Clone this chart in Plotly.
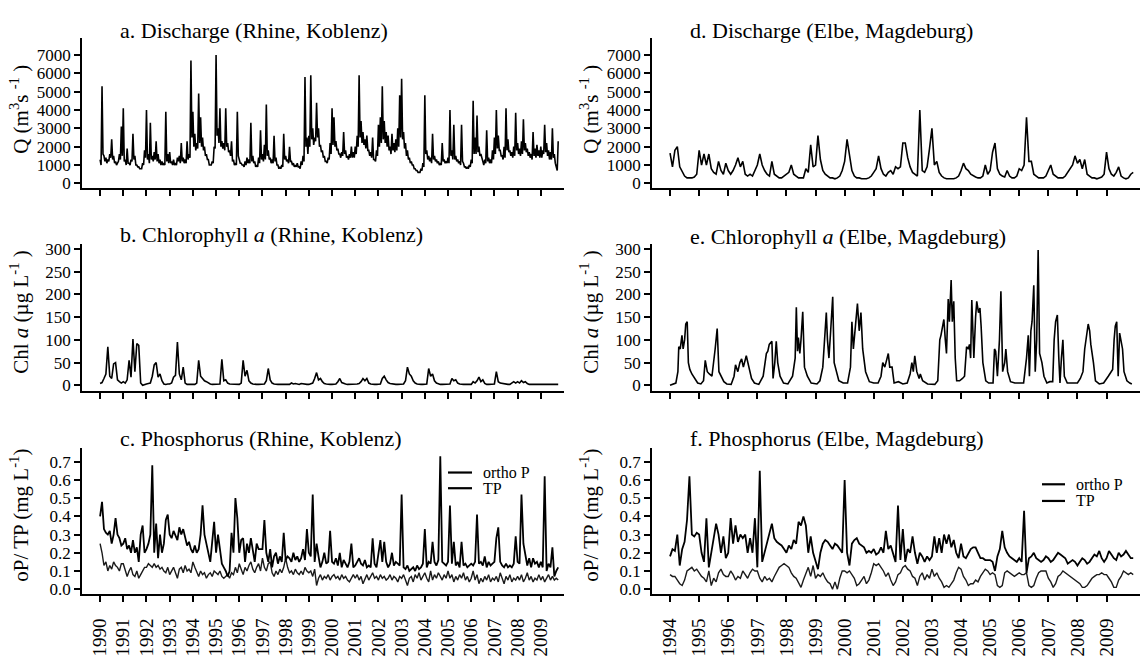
import plotly.graph_objects as go

# ---------------- data ----------------
years_rhine = list(range(1990, 2010))
years_elbe = list(range(1994, 2010))

# a. Rhine discharge at Koblenz (m3 s-1): values at the start of each month from Jan 1990
rhine_q = [
    1300, 5300, 1500, 1400, 1300, 1600, 2400, 1500, 1200, 1100, 1600, 3100,  # 1990
    4100, 1300, 1900, 1100, 1300, 2700, 1500, 1000, 900, 800, 1100, 1800,    # 1991
    4000, 1600, 3300, 1500, 1700, 2300, 1600, 1300, 1200, 1100, 3900, 1600,  # 1992
    1700, 1200, 1300, 1100, 1400, 1500, 2200, 1400, 1300, 2300, 1600, 6700,  # 1993
    3900, 2700, 2200, 4900, 3600, 2500, 2000, 1600, 1300, 1000, 1200, 2000,  # 1994
    7000, 3000, 4100, 2300, 2200, 4100, 2200, 1800, 2300, 1300, 1100, 3900,  # 1995
    1300, 1100, 1000, 1200, 1400, 1300, 3300, 1500, 1200, 1000, 1400, 2900,  # 1996
    1600, 2100, 4300, 1800, 1400, 1300, 2600, 1400, 1000, 900, 1000, 2700,   # 1997
    1500, 1300, 2000, 1200, 1100, 1000, 1100, 900, 1200, 1500, 5800, 2500,   # 1998
    2600, 5900, 3000, 2500, 4400, 3000, 2100, 1800, 1500, 1200, 1400, 2200,  # 1999
    4100, 3600, 2300, 1900, 1600, 1700, 2800, 1800, 1500, 1600, 2000, 1700,  # 2000
    2000, 2600, 5900, 3400, 2800, 2400, 2600, 1800, 1700, 2500, 1300, 1800,  # 2001
    3200, 3600, 5300, 3400, 2800, 2600, 2000, 2700, 2200, 2400, 3000, 4800,  # 2002
    5700, 2800, 2200, 1800, 1400, 1200, 1000, 800, 700, 600, 800, 1100,      # 2003
    4800, 1800, 1500, 1400, 2700, 1500, 1300, 1200, 1100, 2200, 1300, 1200,  # 2004
    1400, 4000, 1800, 3200, 1500, 1300, 1200, 3200, 1100, 900, 900, 1000,    # 2005
    1300, 4500, 2500, 3700, 2000, 1600, 1200, 1300, 2900, 1400, 1300, 1800,  # 2006
    2500, 4000, 2600, 1800, 1500, 2000, 4100, 2400, 1800, 1700, 2000, 3850,  # 2007
    2200, 1900, 2300, 3500, 2200, 1900, 1700, 1600, 2800, 1900, 2100, 1800,  # 2008
    2000, 1800, 3200, 2200, 1800, 1700, 3000, 1600, 800, 2300,               # 2009
]
# mid-month values of the same series (between consecutive values above)
rhine_q_mid = [
    1000, 1600, 1200, 1100, 1200, 1400, 1300, 1100, 1000, 1200, 1300, 1500,  # 1990
    1200, 1000, 1100, 1000, 1200, 1300, 1000, 900, 800, 800, 1000, 1400,     # 1991
    1300, 1100, 1300, 1200, 1300, 1200, 1100, 1000, 1000, 1000, 1200, 1100,  # 1992
    1100, 1000, 1000, 1000, 1200, 1100, 1200, 1100, 1100, 1300, 1400, 2500,  # 1993
    2000, 1800, 1900, 2200, 2000, 1800, 1500, 1300, 1000, 1000, 1100, 1900,  # 1994
    2600, 2200, 2000, 1900, 1800, 2000, 1700, 1500, 1200, 1000, 1000, 1500,  # 1995
    1100, 1000, 900, 1000, 1100, 1100, 1200, 1100, 900, 900, 1100, 1300,     # 1996
    1200, 1300, 1500, 1300, 1100, 1100, 1200, 1000, 800, 800, 900, 1300,     # 1997
    1200, 1100, 1200, 1000, 900, 900, 900, 800, 1000, 1200, 2000, 1600,      # 1998
    2000, 2400, 2100, 2300, 2500, 2000, 1700, 1400, 1200, 1100, 1300, 1600,  # 1999
    2100, 2000, 1800, 1600, 1400, 1500, 1600, 1400, 1300, 1400, 1400, 1400,  # 2000
    1600, 2000, 2500, 2200, 2100, 1900, 1800, 1500, 1400, 1300, 1200, 1500,  # 2001
    2000, 2200, 2400, 2200, 2000, 1800, 1600, 1800, 1700, 1800, 2000, 2500,  # 2002
    2400, 1900, 1500, 1300, 1100, 1000, 800, 700, 600, 600, 700, 900,        # 2003
    1600, 1300, 1200, 1100, 1300, 1200, 1100, 1000, 1000, 1200, 1100, 1100,  # 2004
    1100, 1500, 1300, 1300, 1200, 1100, 1000, 1200, 900, 800, 800, 900,      # 2005
    1100, 1600, 1600, 1700, 1500, 1300, 1000, 1100, 1200, 1100, 1100, 1300,  # 2006
    1600, 1900, 1800, 1500, 1300, 1400, 1800, 1700, 1500, 1400, 1500, 1800,  # 2007
    1600, 1500, 1600, 1800, 1700, 1500, 1400, 1300, 1500, 1400, 1500, 1400,  # 2008
    1400, 1600, 1700, 1500, 1300, 1300, 1400, 1100, 700,                     # 2009
]

# b. Rhine chlorophyll a (ug L-1), monthly from Jan 1990
rhine_chl = [
    4, 6, 15, 25, 85, 20, 15, 47, 50, 12, 8, 5,      # 1990
    8, 5, 12, 55, 18, 102, 30, 92, 88, 5, 0, 2,      # 1991
    3, 4, 5, 20, 45, 50, 18, 25, 10, 3, 2, 3,        # 1992
    3, 5, 18, 22, 95, 25, 12, 40, 5, 2, 2, 3,        # 1993
    2, 2, 5, 55, 20, 15, 10, 8, 5, 3, 2, 2,          # 1994
    2, 2, 3, 57, 10, 12, 5, 3, 3, 2, 2, 2,           # 1995
    2, 5, 55, 20, 33, 10, 5, 3, 2, 2, 2, 2,          # 1996
    2, 3, 10, 37, 12, 5, 3, 2, 2, 2, 2, 2,           # 1997
    2, 3, 2, 5, 3, 4, 3, 2, 4, 3, 2, 2,              # 1998
    2, 3, 5, 15, 28, 12, 15, 8, 4, 3, 2, 2,          # 1999
    2, 2, 3, 8, 15, 6, 4, 3, 2, 2, 2, 2,             # 2000
    2, 3, 4, 8, 15, 10, 15, 5, 3, 2, 2, 2,           # 2001
    2, 3, 15, 20, 12, 6, 4, 3, 2, 2, 2, 2,           # 2002
    2, 3, 10, 40, 25, 20, 10, 5, 3, 2, 2, 2,         # 2003
    2, 3, 37, 20, 25, 10, 5, 3, 2, 2, 2, 2,          # 2004
    2, 3, 15, 10, 12, 5, 3, 2, 2, 2, 2, 2,           # 2005
    2, 8, 5, 10, 18, 8, 12, 4, 2, 2, 2, 2,           # 2006
    3, 30, 8, 5, 4, 3, 2, 2, 2, 6, 8, 5,             # 2007
    8, 5, 10, 6, 8, 4, 2, 2, 2, 2, 2, 2,             # 2008
    2, 2, 2, 2, 2, 2, 2, 2, 2, 2,                    # 2009
]

# c. Rhine phosphorus (mg L-1), monthly from Jan 1990
rhine_tp = [
    0.40, 0.48, 0.33, 0.31, 0.30, 0.32, 0.25, 0.30, 0.39, 0.30, 0.28, 0.24,  # 1990
    0.25, 0.28, 0.22, 0.24, 0.20, 0.27, 0.20, 0.23, 0.15, 0.30, 0.35, 0.20,  # 1991
    0.22, 0.25, 0.30, 0.68, 0.20, 0.36, 0.17, 0.30, 0.20, 0.25, 0.38, 0.41,  # 1992
    0.30, 0.28, 0.32, 0.29, 0.27, 0.34, 0.30, 0.33, 0.28, 0.24, 0.26, 0.22,  # 1993
    0.20, 0.24, 0.20, 0.22, 0.30, 0.46, 0.30, 0.25, 0.20, 0.15, 0.26, 0.37,  # 1994
    0.20, 0.30, 0.22, 0.14, 0.12, 0.10, 0.07, 0.10, 0.31, 0.20, 0.50, 0.39,  # 1995
    0.20, 0.27, 0.28, 0.15, 0.25, 0.20, 0.28, 0.20, 0.15, 0.25, 0.22, 0.22,  # 1996
    0.22, 0.38, 0.20, 0.15, 0.22, 0.12, 0.18, 0.20, 0.14, 0.18, 0.15, 0.31,  # 1997
    0.16, 0.18, 0.17, 0.15, 0.20, 0.16, 0.18, 0.15, 0.17, 0.22, 0.16, 0.33,  # 1998
    0.20, 0.18, 0.52, 0.15, 0.25, 0.18, 0.12, 0.15, 0.20, 0.14, 0.15, 0.32,  # 1999
    0.15, 0.14, 0.17, 0.13, 0.20, 0.12, 0.16, 0.14, 0.12, 0.15, 0.25, 0.12,  # 2000
    0.13, 0.15, 0.17, 0.14, 0.13, 0.16, 0.12, 0.13, 0.12, 0.28, 0.14, 0.12,  # 2001
    0.20, 0.27, 0.15, 0.26, 0.15, 0.12, 0.14, 0.20, 0.13, 0.15, 0.14, 0.13,  # 2002
    0.52, 0.12, 0.11, 0.13, 0.10, 0.11, 0.12, 0.10, 0.13, 0.11, 0.12, 0.14,  # 2003
    0.33, 0.12, 0.15, 0.14, 0.26, 0.15, 0.13, 0.16, 0.73, 0.15, 0.14, 0.13,  # 2004
    0.15, 0.46, 0.14, 0.26, 0.13, 0.15, 0.12, 0.26, 0.13, 0.14, 0.12, 0.13,  # 2005
    0.14, 0.13, 0.15, 0.41, 0.14, 0.15, 0.13, 0.18, 0.12, 0.15, 0.13, 0.14,  # 2006
    0.15, 0.28, 0.34, 0.15, 0.13, 0.12, 0.14, 0.12, 0.13, 0.12, 0.14, 0.29,  # 2007
    0.15, 0.14, 0.52, 0.25, 0.18, 0.13, 0.17, 0.12, 0.17, 0.14, 0.15, 0.12,  # 2008
    0.15, 0.12, 0.62, 0.10, 0.14, 0.12, 0.23, 0.07, 0.10, 0.12,              # 2009
]
rhine_op = [
    0.25, 0.20, 0.13, 0.15, 0.10, 0.13, 0.11, 0.15, 0.13, 0.12, 0.10, 0.14,  # 1990
    0.14, 0.11, 0.07, 0.10, 0.12, 0.08, 0.07, 0.10, 0.06, 0.08, 0.10, 0.12,  # 1991
    0.12, 0.14, 0.13, 0.12, 0.14, 0.12, 0.13, 0.11, 0.12, 0.10, 0.09, 0.12,  # 1992
    0.08, 0.10, 0.12, 0.09, 0.06, 0.11, 0.12, 0.09, 0.13, 0.10, 0.11, 0.09,  # 1993
    0.15, 0.12, 0.09, 0.07, 0.10, 0.08, 0.09, 0.06, 0.08, 0.09, 0.07, 0.10,  # 1994
    0.09, 0.08, 0.10, 0.07, 0.06, 0.07, 0.08, 0.06, 0.09, 0.08, 0.12, 0.09,  # 1995
    0.14, 0.11, 0.08, 0.12, 0.10, 0.13, 0.15, 0.11, 0.09, 0.12, 0.14, 0.10,  # 1996
    0.17, 0.12, 0.10, 0.14, 0.15, 0.09, 0.07, 0.10, 0.08, 0.11, 0.09, 0.12,  # 1997
    0.17, 0.12, 0.09, 0.10, 0.08, 0.11, 0.09, 0.08, 0.10, 0.08, 0.12, 0.10,  # 1998
    0.09, 0.10, 0.07, 0.11, 0.02, 0.06, 0.08, 0.05, 0.07, 0.06, 0.08, 0.05,  # 1999
    0.07, 0.08, 0.06, 0.07, 0.05, 0.08, 0.06, 0.07, 0.05, 0.04, 0.06, 0.08,  # 2000
    0.06, 0.08, 0.05, 0.07, 0.03, 0.06, 0.08, 0.05, 0.07, 0.09, 0.06, 0.07,  # 2001
    0.05, 0.08, 0.06, 0.07, 0.05, 0.06, 0.08, 0.05, 0.07, 0.06, 0.04, 0.07,  # 2002
    0.06, 0.08, 0.05, 0.02, 0.06, 0.07, 0.04, 0.08, 0.06, 0.09, 0.05, 0.07,  # 2003
    0.09, 0.06, 0.04, 0.10, 0.05, 0.08, 0.06, 0.09, 0.07, 0.05, 0.08, 0.06,  # 2004
    0.10, 0.06, 0.08, 0.04, 0.07, 0.05, 0.08, 0.06, 0.09, 0.05, 0.07, 0.04,  # 2005
    0.06, 0.10, 0.05, 0.08, 0.03, 0.06, 0.04, 0.07, 0.05, 0.08, 0.04, 0.06,  # 2006
    0.05, 0.07, 0.04, 0.09, 0.06, 0.03, 0.07, 0.05, 0.08, 0.04, 0.06, 0.05,  # 2007
    0.07, 0.05, 0.08, 0.04, 0.06, 0.09, 0.05, 0.07, 0.04, 0.06, 0.05, 0.08,  # 2008
    0.05, 0.07, 0.04, 0.06, 0.08, 0.05, 0.07, 0.05, 0.06, 0.05,              # 2009
]

# d. Elbe discharge at Magdeburg (m3 s-1), monthly from Jan 1994
elbe_q = [
    1650, 900, 1800, 2000, 900, 600, 400, 300, 300, 300, 350, 500,      # 1994
    1800, 1000, 1600, 1000, 1600, 800, 600, 500, 1200, 700, 500, 1100,  # 1995
    700, 500, 700, 1000, 1400, 900, 1200, 500, 400, 500, 400, 700,      # 1996
    1000, 1600, 1000, 700, 500, 400, 1200, 500, 400, 300, 300, 400,     # 1997
    500, 600, 1000, 500, 400, 300, 300, 300, 800, 600, 2100, 900,       # 1998
    1000, 2600, 1300, 700, 500, 400, 300, 300, 250, 300, 400, 700,      # 1999
    1200, 2400, 1500, 700, 400, 300, 300, 250, 250, 250, 300, 400,      # 2000
    600, 800, 1500, 800, 500, 400, 600, 700, 500, 900, 800, 900,        # 2001
    2200, 2200, 1400, 900, 600, 500, 400, 4000, 700, 600, 900, 1900,    # 2002
    3000, 1000, 1200, 600, 400, 300, 250, 250, 250, 250, 300, 400,      # 2003
    700, 1100, 800, 700, 500, 400, 350, 300, 300, 400, 1000, 500,       # 2004
    700, 1700, 2200, 800, 500, 400, 350, 700, 400, 300, 300, 400,       # 2005
    800, 700, 1000, 3600, 1200, 1200, 500, 400, 300, 300, 300, 400,     # 2006
    700, 1000, 500, 400, 300, 300, 300, 400, 600, 800, 1000, 1500,      # 2007
    1100, 1300, 800, 1300, 500, 400, 300, 300, 250, 300, 350, 500,      # 2008
    1700, 800, 500, 400, 600, 900, 400, 300, 250, 300, 500, 600,        # 2009
]

# e. Elbe chlorophyll a (ug L-1), sampled at irregular dates (decimal year)
elbe_chl_t = [
    1994.0, 1994.1, 1994.2, 1994.27, 1994.3, 1994.35, 1994.41, 1994.45, 1994.5, 1994.54,
    1994.59, 1994.63, 1994.68, 1994.75, 1994.85, 1994.95, 1995.06, 1995.15, 1995.21, 1995.28,
    1995.35, 1995.44, 1995.55, 1995.62, 1995.68, 1995.75, 1995.85, 1995.95, 1996.1, 1996.2,
    1996.25, 1996.33, 1996.4, 1996.46, 1996.52, 1996.62, 1996.7, 1996.8, 1996.9, 1997.05,
    1997.2, 1997.31, 1997.36, 1997.41, 1997.5, 1997.54, 1997.6, 1997.65, 1997.7, 1997.78,
    1997.9, 1998.05, 1998.21, 1998.3, 1998.34, 1998.38, 1998.41, 1998.46, 1998.5, 1998.56,
    1998.62, 1998.72, 1998.85, 1999.05, 1999.15, 1999.25, 1999.33, 1999.37, 1999.41, 1999.46,
    1999.52, 1999.59, 1999.64, 1999.7, 1999.8, 1999.95, 2000.1, 2000.2, 2000.25, 2000.3,
    2000.37, 2000.44, 2000.5, 2000.56, 2000.62, 2000.72, 2000.85, 2001.0, 2001.15, 2001.25,
    2001.31, 2001.38, 2001.44, 2001.5, 2001.55, 2001.63, 2001.7, 2001.85, 2002.0, 2002.15,
    2002.25, 2002.31, 2002.36, 2002.41, 2002.48, 2002.56, 2002.6, 2002.68, 2002.85, 2003.0,
    2003.1, 2003.2, 2003.27, 2003.31, 2003.41, 2003.46, 2003.5, 2003.56, 2003.6, 2003.66,
    2003.7, 2003.75, 2003.8, 2003.85, 2003.95, 2004.05, 2004.12, 2004.19, 2004.25, 2004.29,
    2004.33, 2004.37, 2004.44, 2004.5, 2004.54, 2004.6, 2004.65, 2004.69, 2004.75, 2004.85,
    2004.95, 2005.1, 2005.15, 2005.19, 2005.25, 2005.32, 2005.37, 2005.43, 2005.5, 2005.54,
    2005.6, 2005.7, 2005.85, 2006.0, 2006.15, 2006.25, 2006.31, 2006.35, 2006.4, 2006.44,
    2006.5, 2006.55, 2006.6, 2006.65, 2006.7, 2006.78, 2006.85, 2006.95, 2007.05, 2007.15,
    2007.2, 2007.25, 2007.31, 2007.36, 2007.4, 2007.45, 2007.5, 2007.55, 2007.65, 2007.8,
    2008.0, 2008.1, 2008.19, 2008.25, 2008.31, 2008.37, 2008.42, 2008.46, 2008.55, 2008.62,
    2008.75, 2008.9, 2009.06, 2009.15, 2009.21, 2009.26, 2009.3, 2009.35, 2009.4, 2009.45,
    2009.5, 2009.55, 2009.6, 2009.7, 2009.8, 2009.87,
]
elbe_chl_v = [
    0, 2, 5, 30, 85, 80, 110, 80, 100, 135,
    140, 50, 35, 25, 15, 5, 3, 10, 55, 30,
    25, 20, 80, 125, 30, 20, 8, 3, 2, 20,
    45, 30, 50, 58, 40, 65, 40, 15, 5, 2,
    20, 70, 75, 90, 97, 15, 50, 97, 50, 20,
    5, 3, 20, 60, 172, 75, 105, 70, 100, 162,
    40, 20, 5, 3, 10, 40, 120, 160, 100, 60,
    120, 195, 50, 35, 10, 5, 5, 40, 140, 80,
    140, 180, 120, 160, 80, 30, 8, 5, 5, 20,
    50, 40, 55, 70, 40, 40, 5, 8, 3, 5,
    25, 50, 30, 65, 30, 15, 25, 10, 3, 3,
    2, 10, 100, 110, 145, 100, 70, 190, 140, 232,
    140, 185, 60, 10, 10, 15, 20, 85, 80, 90,
    60, 188, 60, 150, 185, 160, 170, 130, 50, 10,
    5, 5, 80, 75, 20, 100, 207, 30, 50, 80,
    30, 8, 5, 5, 5, 60, 110, 20, 120, 140,
    220, 30, 100, 298, 70, 50, 20, 5, 8, 8,
    100, 140, 155, 60, 5, 60, 100, 20, 5, 5,
    5, 15, 30, 80, 110, 135, 120, 90, 50, 10,
    3, 5, 20, 30, 35, 100, 130, 140, 20, 115,
    100, 80, 30, 10, 5, 3,
]

# f. Elbe phosphorus (mg L-1), monthly from Jan 1994
elbe_tp = [
    0.18, 0.22, 0.21, 0.30, 0.13, 0.22, 0.26, 0.38, 0.62, 0.30, 0.29, 0.31,  # 1994
    0.30, 0.20, 0.15, 0.39, 0.12, 0.20, 0.30, 0.36, 0.30, 0.20, 0.29, 0.17,  # 1995
    0.20, 0.39, 0.25, 0.35, 0.26, 0.30, 0.28, 0.30, 0.20, 0.28, 0.20, 0.39,  # 1996
    0.12, 0.65, 0.15, 0.20, 0.25, 0.30, 0.36, 0.28, 0.26, 0.25, 0.24, 0.22,  # 1997
    0.20, 0.24, 0.22, 0.27, 0.25, 0.37, 0.35, 0.40, 0.35, 0.20, 0.29, 0.20,  # 1998
    0.15, 0.11, 0.20, 0.25, 0.27, 0.26, 0.24, 0.22, 0.25, 0.24, 0.22, 0.20,  # 1999
    0.60, 0.20, 0.13, 0.25, 0.27, 0.28, 0.25, 0.24, 0.23, 0.20, 0.21, 0.20,  # 2000
    0.22, 0.19, 0.20, 0.23, 0.20, 0.32, 0.22, 0.24, 0.20, 0.15, 0.46, 0.16,  # 2001
    0.33, 0.15, 0.22, 0.20, 0.29, 0.20, 0.14, 0.20, 0.18, 0.15, 0.18, 0.16,  # 2002
    0.18, 0.29, 0.20, 0.28, 0.20, 0.30, 0.25, 0.30, 0.23, 0.27, 0.20, 0.17,  # 2003
    0.25, 0.18, 0.17, 0.20, 0.22, 0.23, 0.23, 0.20, 0.17, 0.17, 0.16, 0.16,  # 2004
    0.16, 0.15, 0.10, 0.18, 0.22, 0.32, 0.23, 0.20, 0.18, 0.17, 0.16, 0.15,  # 2005
    0.17, 0.15, 0.43, 0.09, 0.17, 0.18, 0.20, 0.17, 0.16, 0.15, 0.16, 0.18,  # 2006
    0.17, 0.15, 0.16, 0.18, 0.20, 0.19, 0.18, 0.17, 0.14, 0.15, 0.16, 0.15,  # 2007
    0.13, 0.15, 0.17, 0.16, 0.14, 0.15, 0.17, 0.19, 0.18, 0.21, 0.17, 0.15,  # 2008
    0.17, 0.21, 0.19, 0.17, 0.16, 0.20, 0.18, 0.19, 0.21, 0.19, 0.17, 0.17,  # 2009
]
elbe_op = [
    0.08, 0.07, 0.07, 0.05, 0.03, 0.02, 0.05, 0.10, 0.11, 0.12, 0.10, 0.11,  # 1994
    0.09, 0.07, 0.06, 0.04, 0.10, 0.02, 0.06, 0.04, 0.09, 0.11, 0.08, 0.07,  # 1995
    0.07, 0.10, 0.08, 0.05, 0.07, 0.06, 0.10, 0.08, 0.06, 0.09, 0.11, 0.10,  # 1996
    0.10, 0.06, 0.04, 0.07, 0.05, 0.06, 0.04, 0.07, 0.10, 0.12, 0.13, 0.14,  # 1997
    0.13, 0.12, 0.09, 0.07, 0.06, 0.03, 0.01, 0.05, 0.08, 0.12, 0.07, 0.13,  # 1998
    0.06, 0.08, 0.07, 0.09, 0.06, 0.04, 0.03, 0.00, 0.04, 0.00, 0.06, 0.10,  # 1999
    0.10, 0.09, 0.10, 0.08, 0.06, 0.02, 0.03, 0.05, 0.07, 0.03, 0.05, 0.09,  # 2000
    0.14, 0.13, 0.14, 0.12, 0.10, 0.07, 0.09, 0.05, 0.02, 0.04, 0.08, 0.09,  # 2001
    0.12, 0.13, 0.11, 0.10, 0.07, 0.06, 0.02, 0.07, 0.09, 0.05, 0.08, 0.06,  # 2002
    0.11, 0.07, 0.09, 0.06, 0.04, 0.01, 0.02, 0.01, 0.03, 0.05, 0.09, 0.12,  # 2003
    0.11, 0.07, 0.05, 0.02, 0.03, 0.03, 0.05, 0.04, 0.07, 0.09, 0.11, 0.10,  # 2004
    0.08, 0.09, 0.08, 0.02, 0.01, 0.02, 0.09, 0.10, 0.09, 0.08, 0.07, 0.08,  # 2005
    0.09, 0.08, 0.08, 0.09, 0.02, 0.01, 0.02, 0.06, 0.09, 0.10, 0.10, 0.10,  # 2006
    0.06, 0.04, 0.01, 0.03, 0.07, 0.08, 0.10, 0.09, 0.08, 0.07, 0.06, 0.05,  # 2007
    0.04, 0.03, 0.01, 0.01, 0.02, 0.04, 0.06, 0.07, 0.08, 0.08, 0.09, 0.08,  # 2008
    0.08, 0.06, 0.04, 0.01, 0.01, 0.05, 0.07, 0.10, 0.09, 0.08, 0.09, 0.08,  # 2009
]

q_ticks = [0, 1000, 2000, 3000, 4000, 5000, 6000, 7000]
chl_ticks = [0, 50, 100, 150, 200, 250, 300]
p_ticks = [0.0, 0.1, 0.2, 0.3, 0.4, 0.5, 0.6, 0.7]
legend_names = ["ortho P", "TP"]

titles = {
    "a": "a. Discharge (Rhine, Koblenz)",
    "b": "b. Chlorophyll <i>a</i> (Rhine, Koblenz)",
    "c": "c. Phosphorus (Rhine, Koblenz)",
    "d": "d. Discharge (Elbe, Magdeburg)",
    "e": "e. Chlorophyll <i>a</i> (Elbe, Magdeburg)",
    "f": "f. Phosphorus (Elbe, Magdeburg)",
}
ytitle_q = "Q (m<sup>3</sup>s <sup>-1</sup> )"
ytitle_chl = "Chl <i>a</i> (µg L<sup>-1</sup> )"
ytitle_p = "oP/ TP (mg L<sup>-1</sup>)"

# ---------------- figure ----------------
W, H = 1140, 656
FONT = "Liberation Serif"
BLK = "#000000"


def monthly(start, n):
    return [start + i / 12.0 for i in range(n)]


# interleave the start-of-month and mid-month discharge values in time order
rq_t, rq_v = [], []
for i, v in enumerate(rhine_q):
    rq_t.append(1990 + i / 12.0)
    rq_v.append(v)
    if i < len(rhine_q_mid):
        rq_t.append(1990 + (i + 0.5) / 12.0)
        rq_v.append(rhine_q_mid[i])

fig = go.Figure()
fig.add_trace(go.Scatter(x=rq_t, y=rq_v, mode="lines",
                         line=dict(color=BLK, width=1.6), xaxis="x", yaxis="y"))
fig.add_trace(go.Scatter(x=monthly(1990, len(rhine_chl)), y=rhine_chl, mode="lines",
                         line=dict(color=BLK, width=1.6), xaxis="x2", yaxis="y2"))
fig.add_trace(go.Scatter(x=monthly(1990, len(rhine_op)), y=rhine_op, mode="lines", name=legend_names[0],
                         line=dict(color="#1a1a1a", width=1.4), xaxis="x3", yaxis="y3"))
fig.add_trace(go.Scatter(x=monthly(1990, len(rhine_tp)), y=rhine_tp, mode="lines", name=legend_names[1],
                         line=dict(color=BLK, width=1.8), xaxis="x3", yaxis="y3"))
fig.add_trace(go.Scatter(x=monthly(1994, len(elbe_q)), y=elbe_q, mode="lines",
                         line=dict(color=BLK, width=1.6), xaxis="x4", yaxis="y4"))
fig.add_trace(go.Scatter(x=elbe_chl_t, y=elbe_chl_v, mode="lines",
                         line=dict(color=BLK, width=1.6), xaxis="x5", yaxis="y5"))
fig.add_trace(go.Scatter(x=monthly(1994, len(elbe_op)), y=elbe_op, mode="lines", name=legend_names[0],
                         line=dict(color="#1a1a1a", width=1.4), xaxis="x6", yaxis="y6"))
fig.add_trace(go.Scatter(x=monthly(1994, len(elbe_tp)), y=elbe_tp, mode="lines", name=legend_names[1],
                         line=dict(color=BLK, width=1.8), xaxis="x6", yaxis="y6"))


def px_dom_x(a, b):
    return [a / W, b / W]


def px_dom_y(top, bottom):
    return [1 - bottom / H, 1 - top / H]


LX = px_dom_x(82, 564)
RX = px_dom_x(652, 1140)
ROWS = [px_dom_y(35, 188), px_dom_y(245, 395), px_dom_y(453, 602)]
RANGES = [[-267, 7908], [-12.9, 310.8], [-0.0269, 0.7754]]
YTICKS = [q_ticks, chl_ticks, p_ticks]

common_axis = dict(showline=True, linecolor=BLK, linewidth=1.5, ticks="outside",
                   ticklen=6, tickwidth=1.5, tickcolor=BLK, showgrid=False, zeroline=False,
                   mirror=False)

layout = dict(width=W, height=H, margin=dict(l=0, r=0, t=0, b=0),
              paper_bgcolor="white", plot_bgcolor="white", showlegend=False,
              font=dict(family=FONT, size=17, color=BLK))

for col, (xdom, yr, x0, x1) in enumerate([(LX, years_rhine, 1989.22, 2010.0),
                                           (RX, years_elbe, 1993.38, 2010.15)]):
    for row in range(3):
        k = col * 3 + row + 1
        xa = "xaxis" if k == 1 else f"xaxis{k}"
        ya = "yaxis" if k == 1 else f"yaxis{k}"
        yid = "y" if k == 1 else f"y{k}"
        xid = "x" if k == 1 else f"x{k}"
        layout[xa] = dict(common_axis, domain=xdom, anchor=yid, range=[x0, x1],
                          tickmode="array", tickvals=yr, ticktext=[str(v) for v in yr],
                          tickangle=-90, showticklabels=(row == 2), ticklabelstandoff=9,
                          tickfont=dict(family=FONT, size=19, color=BLK))
        ytick = YTICKS[row]
        layout[ya] = dict(common_axis, domain=ROWS[row], anchor=xid, range=RANGES[row],
                          tickmode="array", tickvals=ytick,
                          ticktext=[f"{v:.1f}" for v in ytick] if row == 2 else [str(v) for v in ytick],
                          tickfont=dict(family=FONT, size=17, color=BLK))

annotations = []
shapes = []
title_pos = [("a", 118, 27), ("b", 118, 235), ("c", 118, 443),
             ("d", 688, 27), ("e", 688, 237), ("f", 688, 443)]
for key, xp, yp in title_pos:
    annotations.append(dict(text=titles[key], x=xp / W, y=1 - yp / H, xref="paper", yref="paper",
                            xanchor="left", yanchor="middle", showarrow=False,
                            font=dict(family=FONT, size=22, color=BLK)))
ytitle_pos = [(ytitle_q, 108), (ytitle_chl, 314), (ytitle_p, 522)]
for xoff in (20, 590):
    for txt, yp in ytitle_pos:
        annotations.append(dict(text=txt, x=xoff / W, y=1 - yp / H, xref="paper", yref="paper",
                                xanchor="center", yanchor="middle", textangle=-90, showarrow=False,
                                font=dict(family=FONT, size=21, color=BLK)))

# legends of panels c and f (line sample + label)
for lx0, lx1, ly0, step in [(448, 472, 478, 16), (1042, 1065, 490, 17)]:
    for j, name in enumerate(legend_names):
        yy = 1 - (ly0 + j * step) / H
        shapes.append(dict(type="line", xref="paper", yref="paper", x0=lx0 / W, x1=lx1 / W,
                           y0=yy, y1=yy, line=dict(color=BLK, width=2.2)))
        annotations.append(dict(text=name, x=(lx1 + 9) / W, y=yy, xref="paper", yref="paper",
                                xanchor="left", yanchor="middle", showarrow=False,
                                font=dict(family=FONT, size=16, color=BLK)))

layout["annotations"] = annotations
layout["shapes"] = shapes

fig.update_layout(**layout)
fig.write_html("out.html")
